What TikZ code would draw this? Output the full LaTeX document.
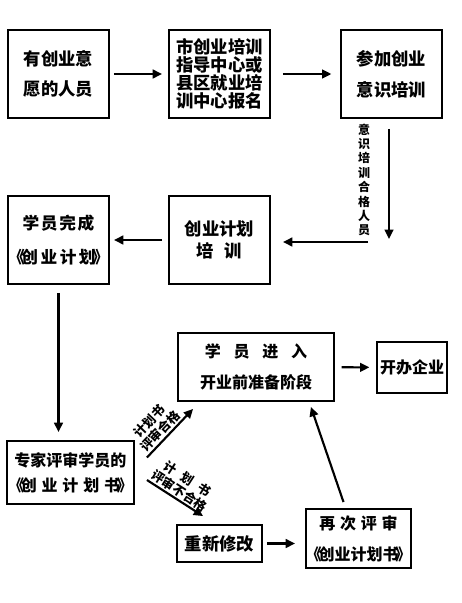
\documentclass[tikz,border=0pt]{standalone}
\usepackage{fontspec}
\setmainfont{Noto Sans CJK SC}
\usetikzlibrary{arrows.meta,calc}

\newlength\unitpx
\setlength\unitpx{0.75pt}
\newcommand\lbk{\makebox[0.6em]{《}}
\newcommand\rbk{\makebox[0.6em]{》}}

\begin{document}
\begin{tikzpicture}[x=0.75pt, y=-0.75pt,
    box/.style={draw, line width=1.4pt, align=center, inner sep=0pt},
    arr/.style={-{Triangle[length=7pt,width=6.5pt]}, line width=1.6pt},
    tag/.style={font=\bfseries\fontsize{9.5}{11}\selectfont, align=center, inner sep=1pt}]

    \useasboundingbox (0,0) rectangle (461,603);

    % First row
    \node[box, minimum width=101\unitpx, minimum height=88\unitpx, font=\bfseries\fontsize{13}{23}\selectfont] (want) at (58.5,74) {有创业意\\愿的人员};
    \node[box, minimum width=101\unitpx, minimum height=88\unitpx, font=\bfseries\fontsize{13}{13.6}\selectfont] (sign) at (219.5,74) {市创业培训\\指导中心或\\县区就业培\\训中心报名};
    \node[box, minimum width=101\unitpx, minimum height=88\unitpx, font=\bfseries\fontsize{13}{23}\selectfont] (aware) at (391.5,74) {参加创业\\意识培训};

    % Second row
    \node[box, minimum width=101\unitpx, minimum height=88\unitpx, font=\bfseries\fontsize{12.5}{25}\selectfont] (done) at (58.5,240) {学\hspace{0.1em}员\hspace{0.1em}完\hspace{0.1em}成\\\lbk 创\hspace{0.15em}业\hspace{0.15em}计\hspace{0.15em}划\rbk};
    \node[box, minimum width=101\unitpx, minimum height=88\unitpx, font=\bfseries\fontsize{13}{16.5}\selectfont] (plan) at (219.5,240) {创业计划\\培\hspace{0.6em}训};

    % Lower part
    \node[box, minimum width=127\unitpx, minimum height=63\unitpx, font=\bfseries\fontsize{12}{18.5}\selectfont] (review) at (70.5,472.5) {专家评审学员的\\\lbk 创\hspace{0.3em}业\hspace{0.3em}计\hspace{0.3em}划\hspace{0.3em}书\rbk};
    \node[box, minimum width=156\unitpx, minimum height=68\unitpx, font=\bfseries\fontsize{12}{23}\selectfont] (prep) at (256,367) {学\hspace{0.8em}员\hspace{0.8em}进\hspace{0.8em}入\\开业前准备阶段};
    \node[box, minimum width=70\unitpx, minimum height=51\unitpx, font=\bfseries\fontsize{12}{14}\selectfont] (open) at (412,367.5) {开办企业};
    \node[box, minimum width=85\unitpx, minimum height=37\unitpx, font=\bfseries\fontsize{13}{15}\selectfont] (fix) at (219.5,543.5) {重新修改};
    \node[box, minimum width=105\unitpx, minimum height=59\unitpx, font=\bfseries\fontsize{12}{23}\selectfont] (recheck) at (358.5,538.5) {再\hspace{0.3em}次\hspace{0.3em}评\hspace{0.3em}审\\\lbk 创业计划书\rbk};

    % Free ends of the bent connector
    \coordinate (qualend) at (389,239);
    \coordinate (qualturn) at (368,242);

    % Connectors
    \draw[arr, shorten <=3pt, shorten >=4.5pt] (want) -- (sign);
    \draw[arr, shorten <=9pt, shorten >=6.5pt] (sign) -- (aware);
    \draw[arr, shorten <=7.5pt] (qualend |- aware.south) -- (qualend);
    \node[tag, font=\bfseries\fontsize{9}{10.8}\selectfont] (qualtag) at (364,180) {意\\识\\培\\训\\合\\格\\人\\员};
    \draw[arr, shorten >=9pt] (qualturn) -- (qualturn -| plan.east);
    \draw[arr, shorten <=4.5pt, shorten >=3pt] (plan) -- (done);
    \draw[arr, shorten <=6pt, shorten >=6pt] (done.south) -- (done.south |- review.north);

    \draw[arr] ($(review.east)+(12,-15)$) -- ($(prep.south west)+(16,7)$)
        node[tag, sloped, above, pos=0.42] {计划书\\评审合格};
    \draw[arr] ($(review.east)+(12,7.5)$) -- ($(fix.north west)+(27,-8)$)
        node[tag, sloped, above, pos=0.5] {计\hspace{0.6em}划\hspace{0.6em}书\\评审不合格};
    \draw[arr, shorten <=3pt, shorten >=7.5pt] (fix.east) -- (fix.east -| recheck.west);
    \draw[arr] ($(recheck.north)+(-15,-6)$) -- ($(prep.south east)+(-24,5)$);
    \draw[arr, shorten <=5pt, shorten >=5pt] (prep) -- (open);
\end{tikzpicture}
\end{document}
